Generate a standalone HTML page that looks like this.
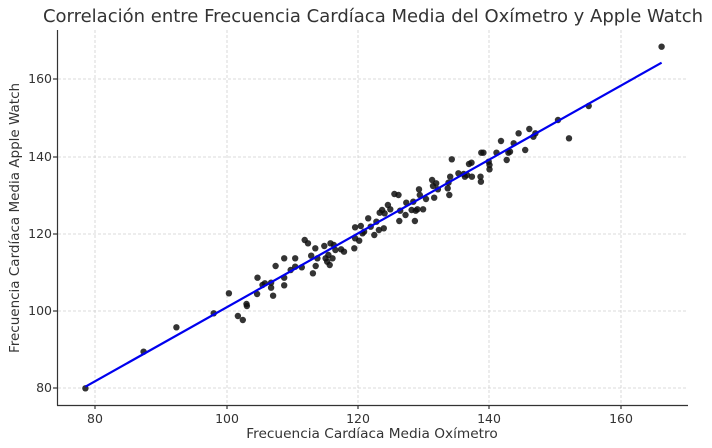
<!DOCTYPE html>
<html><head><meta charset="utf-8"><style>
body{margin:0;background:#fff}
svg{display:block;font-family:"DejaVu Sans","Liberation Sans",sans-serif}
</style></head><body>
<svg id="s" width="712" height="448" xmlns="http://www.w3.org/2000/svg">
<rect width="712" height="448" fill="#fff"/>
<g stroke="#d0d0d0" stroke-width="0.8" stroke-dasharray="3,2">
<line x1="95" y1="30" x2="95" y2="405"/><line x1="227" y1="30" x2="227" y2="405"/><line x1="358" y1="30" x2="358" y2="405"/><line x1="489" y1="30" x2="489" y2="405"/><line x1="621" y1="30" x2="621" y2="405"/>
<line x1="58" y1="79" x2="688" y2="79"/><line x1="58" y1="157" x2="688" y2="157"/><line x1="58" y1="234" x2="688" y2="234"/><line x1="58" y1="311" x2="688" y2="311"/><line x1="58" y1="388" x2="688" y2="388"/>
</g>
<g id="pts" fill="#111" fill-opacity="0.85"></g>
<line x1="85.4" y1="386.7" x2="661.6" y2="62.7" stroke="#0000ee" stroke-width="2.2"/>
<g stroke="#333" stroke-width="1.2">
<line x1="57.5" y1="30" x2="57.5" y2="405.5"/><line x1="57" y1="405.5" x2="688" y2="405.5"/>
<line x1="95" y1="405" x2="95" y2="409"/><line x1="227" y1="405" x2="227" y2="409"/><line x1="358" y1="405" x2="358" y2="409"/><line x1="489" y1="405" x2="489" y2="409"/><line x1="621" y1="405" x2="621" y2="409"/>
<line x1="53" y1="79" x2="57" y2="79"/><line x1="53" y1="157" x2="57" y2="157"/><line x1="53" y1="234" x2="57" y2="234"/><line x1="53" y1="311" x2="57" y2="311"/><line x1="53" y1="388" x2="57" y2="388"/>
</g>
<g font-size="12.5" fill="#333" text-anchor="middle">
<text x="95" y="423">80</text><text x="227" y="423">100</text><text x="358" y="423">120</text><text x="489" y="423">140</text><text x="621" y="423">160</text>
</g>
<g font-size="12.5" fill="#333" text-anchor="end">
<text x="52" y="83">160</text><text x="52" y="161">140</text><text x="52" y="238">120</text><text x="52" y="315">100</text><text x="52" y="392">80</text>
</g>
<text x="372" y="438" font-size="13.7" fill="#333" text-anchor="middle">Frecuencia Cardíaca Media Oxímetro</text>
<text transform="translate(19,218) rotate(-90)" font-size="13.5" fill="#333" text-anchor="middle">Frecuencia Cardíaca Media Apple Watch</text>
<text x="373" y="22" font-size="18" fill="#333" text-anchor="middle">Correlación entre Frecuencia Cardíaca Media del Oxímetro y Apple Watch</text>
</svg>
<script>
var p=[[62,1105],[204,995],[284,922],[375,880],[412,820],[434,888],[446,900],[455,852],[456,858],[482,773],[481,822],[494,795],[500,790],[515,788],[515,803],[520,827],[526,738],[547,715],[547,773],[547,796],[563,750],[574,715],[574,740],[590,742],[597,660],[605,670],[613,707],[617,760],[623,685],[624,738],[628,715],[645,678],[648,715],[652,725],[655,705],[658,735],[660,670],[665,715],[668,675],[672,690],[686,688],[693,695],[718,685],[720,655],[720,622],[730,662],[734,618],[738,640],[742,635],[752,595],[758,620],[767,645],[772,605],[778,630],[780,578],[786,570],[790,625],[792,580],[800,555],[806,568],[816,522],[826,525],[828,603],[830,572],[843,585],[845,548],[858,570],[862,545],[866,603],[868,572],[872,568],[876,508],[878,525],[886,568],[893,537],[908,480],[910,498],[913,533],[918,490],[922,508],[946,505],[948,488],[950,525],[952,470],[956,418],[972,460],[985,462],[988,470],[993,465],[998,432],[1004,428],[1005,470],[1026,470],[1027,485],[1028,398],[1033,398],[1046,425],[1048,448],[1048,435],[1065,398],[1076,363],[1090,420],[1094,398],[1098,395],[1107,370],[1119,340],[1135,390],[1145,327],[1155,350],[1160,340],[1215,300],[1242,355],[1290,258],[1468,80]];
var g=document.getElementById('pts'),h='';
p.forEach(function(q){h+='<circle cx="'+(60+q[0]/2.44).toFixed(1)+'" cy="'+(20+q[1]/3).toFixed(1)+'" r="3.2"/>';});
g.innerHTML=h;
</script>
</body></html>
